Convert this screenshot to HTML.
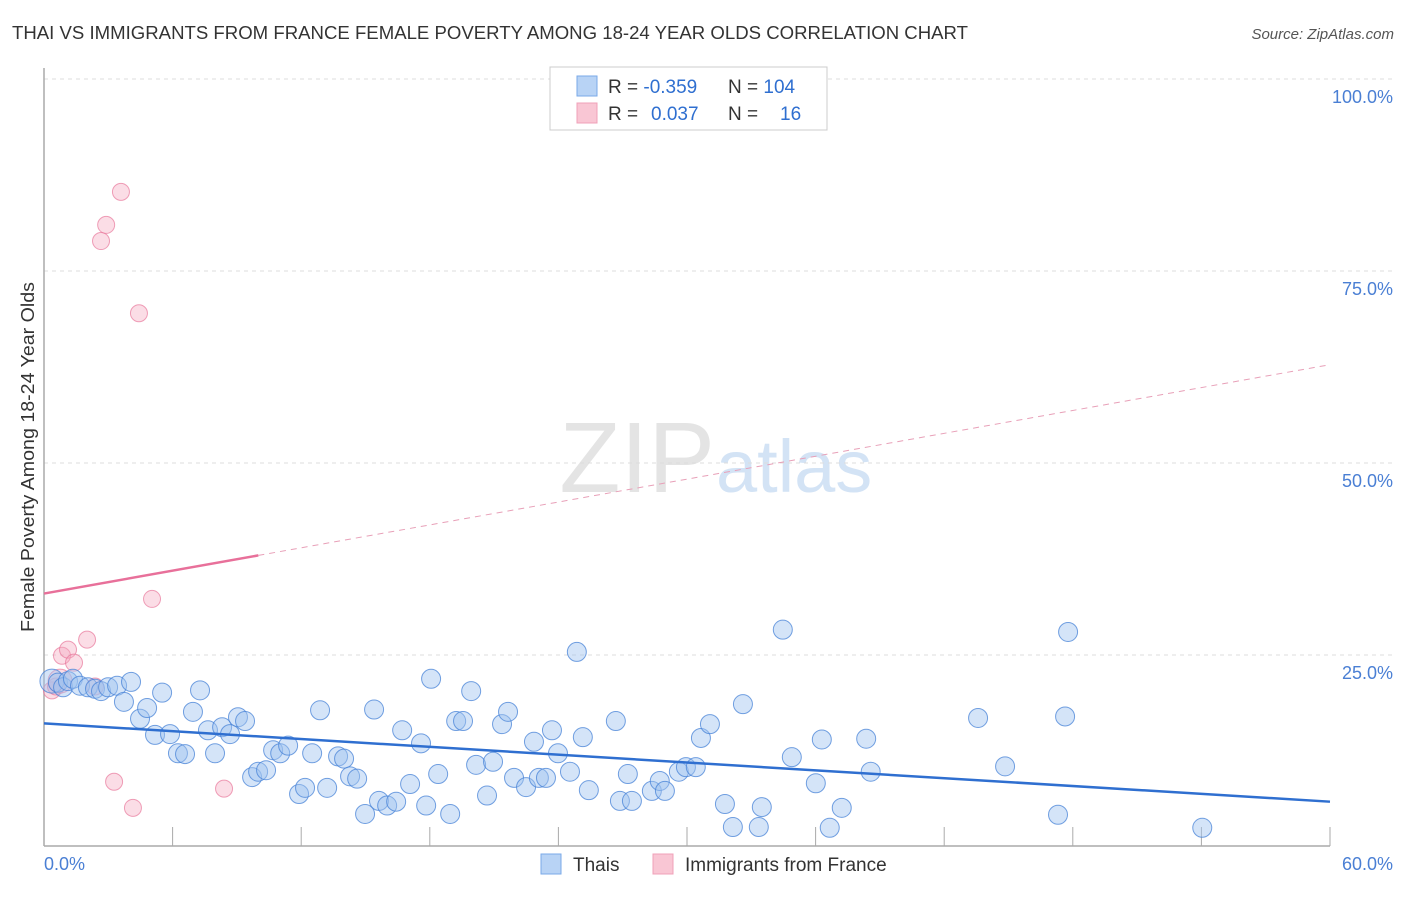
<!DOCTYPE html>
<html><head><meta charset="utf-8"><style>
body{margin:0;background:#fff;font-family:"Liberation Sans",sans-serif;}
svg text{font-family:"Liberation Sans",sans-serif;}
</style></head><body>
<svg id="c" width="1406" height="892">
<text x="12" y="39" font-size="18" fill="#333" textLength="956" lengthAdjust="spacingAndGlyphs">THAI VS IMMIGRANTS FROM FRANCE FEMALE POVERTY AMONG 18-24 YEAR OLDS CORRELATION CHART</text>
<text x="1394" y="39" font-size="15" fill="#555" text-anchor="end" font-style="italic">Source: ZipAtlas.com</text>
<text x="715" y="492" font-size="100" fill="#e4e4e4" text-anchor="end" font-family="Liberation Serif">ZIP</text>
<text x="716" y="492" font-size="74" fill="#d3e3f5">atlas</text>
<g id="grid"></g>
<line x1="44" y1="68" x2="44" y2="846" stroke="#aaa" stroke-width="1.5"/>
<line x1="44" y1="846" x2="1330" y2="846" stroke="#aaa" stroke-width="1.5"/>
<text transform="translate(34,457) rotate(-90)" font-size="18" fill="#333" text-anchor="middle" textLength="350" lengthAdjust="spacingAndGlyphs">Female Poverty Among 18-24 Year Olds</text>
<text x="44" y="870" font-size="18" fill="#4a7fd4">0.0%</text>
<text x="1393" y="870" font-size="18" fill="#4a7fd4" text-anchor="end">60.0%</text>
<g id="pts"></g>
<g id="trend"></g>
<g>
<rect x="550" y="67" width="277" height="63" fill="#fff" stroke="#ccc"/>
<rect x="577" y="76" width="20" height="20" fill="#b8d3f5" stroke="#7aaae8"/>
<rect x="577" y="103" width="20" height="20" fill="#f9c6d4" stroke="#f0a0b8"/>
<text x="608" y="93" font-size="19" fill="#333">R = <tspan fill="#2f6fd0">-0.359</tspan></text>
<text x="728" y="93" font-size="19" fill="#333">N = <tspan fill="#2f6fd0">104</tspan></text>
<text x="608" y="120" font-size="19" fill="#333">R = <tspan fill="#2f6fd0" x="651">0.037</tspan></text>
<text x="728" y="120" font-size="19" fill="#333">N = <tspan fill="#2f6fd0" x="780">16</tspan></text>
</g>
<g>
<rect x="541" y="854" width="20" height="20" fill="#b8d3f5" stroke="#7aaae8"/>
<text x="573" y="871" font-size="19" fill="#333">Thais</text>
<rect x="653" y="854" width="20" height="20" fill="#f9c6d4" stroke="#f0a0b8"/>
<text x="685" y="871" font-size="19" fill="#333">Immigrants from France</text>
</g>
</svg>
<script>
const yTicks=[25,50,75,100];
const xTickCount=10;
const thaiX=[0.37,0.65,0.89,1.12,1.35,1.68,2.05,2.38,2.66,2.99,3.41,3.73,4.06,4.48,4.81,5.18,5.51,5.88,6.25,6.58,6.95,7.28,7.65,7.98,8.31,8.68,9.05,9.38,9.71,9.99,10.36,10.69,11.02,11.39,11.90,12.18,12.51,12.88,13.21,13.72,14.00,14.28,14.61,14.98,15.40,15.63,16.01,16.43,16.71,17.08,17.59,17.83,18.06,18.39,18.95,19.23,19.55,19.93,20.16,20.67,20.95,21.37,21.65,21.93,22.49,22.86,23.09,23.42,23.70,23.98,24.54,24.86,25.14,25.42,26.68,26.87,27.24,27.43,28.36,28.73,28.97,29.62,29.95,30.41,30.65,31.07,31.77,32.14,32.61,33.35,33.49,34.47,34.89,36.01,36.29,36.66,37.22,38.36,38.57,43.58,44.84,47.31,47.64,47.78,54.04];
const thaiY=[21.6,21.4,20.8,21.6,21.9,21.0,20.8,20.6,20.3,20.8,21.0,18.9,21.5,16.7,18.1,14.6,20.1,14.7,12.2,12.1,17.6,20.4,15.2,12.2,15.6,14.7,16.9,16.4,9.1,9.8,10.0,12.6,12.2,13.2,6.9,7.7,12.2,17.8,7.7,11.8,11.5,9.2,8.9,4.3,17.9,6.0,5.4,5.9,15.2,8.2,13.5,5.4,21.9,9.5,4.3,16.4,16.4,20.3,10.7,6.7,11.1,16.0,17.6,9.0,7.8,13.7,9.0,9.0,15.2,12.2,9.8,25.4,14.3,7.4,16.4,6.0,9.5,6.0,7.3,8.6,7.3,9.8,10.4,10.4,14.2,16.0,5.6,2.6,18.6,2.6,5.2,28.3,11.7,8.3,14.0,2.5,5.1,14.1,9.8,16.8,10.5,4.2,17.0,28.0,2.5];
const franceX=[0.37,0.56,0.84,1.12,1.40,2.01,2.38,3.27,2.66,2.90,3.59,4.15,4.43,5.04,8.40,0.75];
const franceY=[20.4,20.9,24.9,25.7,24.0,27.0,20.9,8.5,78.9,81.0,85.3,5.1,69.5,32.3,7.6,21.6];
const thaiSize=[12,9.5];
const trendBlue=[16.1,5.9];
const trendPink=[33.0,62.8];
const X0=44,X1=1330,Y0=847,YS=7.68;
const xs=v=>X0+v/60*(X1-X0);
const ys=v=>Y0-v*YS;
const NS='http://www.w3.org/2000/svg';
function mk(t,a,p){const e=document.createElementNS(NS,t);for(const k in a)e.setAttribute(k,a[k]);p.appendChild(e);return e;}
const grid=document.getElementById('grid');
yTicks.forEach(t=>{
const l=mk('line',{x1:44,x2:1393,y1:ys(t),y2:ys(t),stroke:'#ddd','stroke-dasharray':'4,4'},grid);


const tx=mk('text',{x:1393,y:ys(t)+24,'font-size':18,fill:'#4a7fd4','text-anchor':'end'},grid);
tx.textContent=t.toFixed(1)+'%';


});
for(let i=1;i<=xTickCount;i++){
const l=mk('line',{x1:xs(i*6),x2:xs(i*6),y1:827,y2:846,stroke:'#aaa'},grid);


}
const pts=document.getElementById('pts');
franceX.forEach((x,i)=>{
const c=mk('circle',{cx:xs(x),cy:ys(franceY[i]),r:i==15?12:8.5,fill:'rgba(244,170,192,0.4)',stroke:'rgba(232,120,155,0.7)','stroke-width':1},pts);


});
thaiX.forEach((x,i)=>{
const c=mk('circle',{cx:xs(x),cy:ys(thaiY[i]),r:i==0?thaiSize[0]:thaiSize[1],fill:'rgba(160,196,240,0.45)',stroke:'rgba(70,130,215,0.75)','stroke-width':1},pts);


});
const tr=document.getElementById('trend');
let b=mk('line',{x1:xs(0),y1:ys(trendBlue[0]),x2:xs(60),y2:ys(trendBlue[1]),stroke:'#2f6fd0','stroke-width':2.5},tr);


const pAt=x=>trendPink[0]+(trendPink[1]-trendPink[0])*x/60;
let p1=mk('line',{x1:xs(0),y1:ys(pAt(0)),x2:xs(10),y2:ys(pAt(10)),stroke:'#e8709a','stroke-width':2.5},tr);


let p2=mk('line',{x1:xs(10),y1:ys(pAt(10)),x2:xs(60),y2:ys(pAt(60)),stroke:'#e8a0b8','stroke-width':1,'stroke-dasharray':'6,5'},tr);


</script>
</body></html>
